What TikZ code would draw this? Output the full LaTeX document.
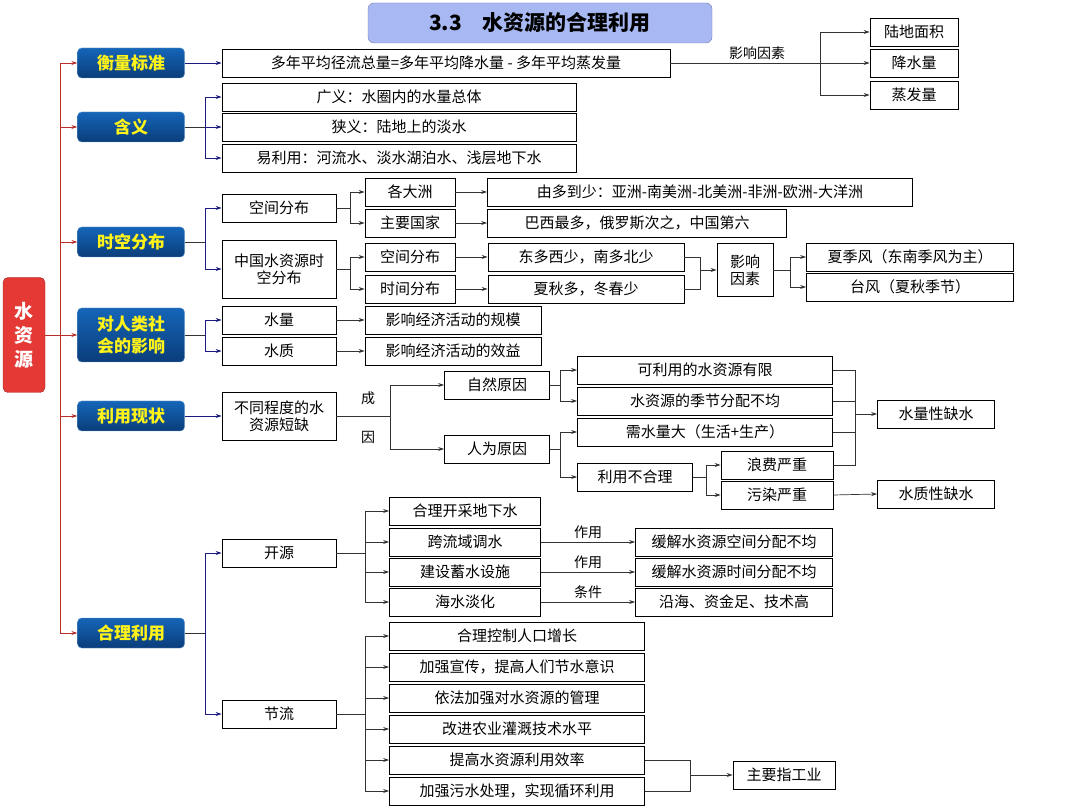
\documentclass[tikz,border=0pt]{standalone}
\usepackage{fontspec}
\setmainfont{Noto Sans CJK SC}
\usetikzlibrary{arrows.meta}
\definecolor{lone}{HTML}{1565B8}
\definecolor{ltwo}{HTML}{0A3D7A}
\definecolor{rootred}{HTML}{E53935}
\definecolor{titlebg}{HTML}{A7B8F2}
\definecolor{navy}{HTML}{1A1A80}
\definecolor{wire}{HTML}{333333}
\begin{document}
\begin{tikzpicture}[x=1pt,y=-1pt,
 bx/.style={draw=black,line width=0.8pt,fill=white,minimum height=28pt,inner sep=1pt,font=\fontsize{15}{17}\selectfont,align=center},
 lv/.style={draw=lone!60,rounded corners=4pt,top color=lone,bottom color=ltwo,minimum width=107pt,minimum height=30pt,text=yellow!90!white,font=\fontsize{17}{19}\selectfont\bfseries,align=center,inner sep=1pt},
 con/.style={draw=wire,line width=0.7pt,-{Stealth[length=6pt,width=4pt]}},
 bcon/.style={draw=navy,line width=0.7pt,-{Stealth[length=6pt,width=4pt]}},
 rcon/.style={draw=rootred!80!black,line width=0.7pt,-{Stealth[length=6pt,width=4pt]}},
 ln/.style={draw=wire,line width=0.7pt},
 lbl/.style={font=\fontsize{14}{16}\selectfont}]
\useasboundingbox (0,0) rectangle (1080,810);
% title
\node[draw=navy!60,rounded corners=6pt,fill=titlebg,minimum width=344pt,minimum height=40pt,font=\fontsize{21}{24}\selectfont\bfseries] (title) at (540,23) {3.3\quad 水资源的合理利用};
% root
\node[draw=rootred!70!black,rounded corners=5pt,fill=rootred,minimum width=42pt,minimum height=115pt,text=white,font=\fontsize{19}{24}\selectfont\bfseries,align=center] (root) at (24,335) {水\\资\\源};
\coordinate (trunk) at (60,335);
% level 1
\node[lv] (a1) at (131,63) {衡量标准};
\node[lv] (a2) at (131,127) {含义};
\node[lv] (a3) at (131,242) {时空分布};
\node[lv,minimum height=54pt,font=\fontsize{17}{22}\selectfont\bfseries] (a4) at (131,335) {对人类社\\会的影响};
\node[lv] (a5) at (131,416) {利用现状};
\node[lv] (a6) at (131,633) {合理利用};
\draw[rcon] (root.east) -- (trunk) |- (a1.west);
\draw[rcon] (trunk) |- (a2.west);
\draw[rcon] (trunk) |- (a3.west);
\draw[rcon] (trunk) -- (a4.west);
\draw[rcon] (trunk) |- (a5.west);
\draw[rcon] (trunk) |- (a6.west);
% 衡量标准
\node[bx,minimum width=448pt] (b1) at (446,63) {多年平均径流总量=多年平均降水量 - 多年平均蒸发量};
\draw[bcon] (a1.east) -- (b1.west);
\node[bx,minimum width=88pt] (f1) at (914,32) {陆地面积};
\node[bx,minimum width=88pt] (f2) at (914,63) {降水量};
\node[bx,minimum width=88pt] (f3) at (914,95) {蒸发量};
\coordinate (fj) at (820,63);
\draw[ln] (b1.east) -- node[lbl,above,pos=0.58]{影响因素} (fj);
\draw[con] (fj) |- (f1.west);
\draw[con] (fj) -- (f2.west);
\draw[con] (fj) |- (f3.west);
% 含义
\node[bx,minimum width=354pt] (c1) at (399,97) {广义：水圈内的水量总体};
\node[bx,minimum width=354pt] (c2) at (399,127) {狭义：陆地上的淡水};
\node[bx,minimum width=354pt] (c3) at (399,158) {易利用：河流水、淡水湖泊水、浅层地下水};
\coordinate (cj) at (205,127);
\draw[ln] (a2.east) -- (cj);
\draw[bcon] (cj) |- (c1.west);
\draw[bcon] (cj) -- (c2.west);
\draw[bcon] (cj) |- (c3.west);
% 时空分布
\node[bx,minimum width=114pt] (d1) at (279,208) {空间分布};
\node[bx,minimum width=114pt,minimum height=58pt] (d2) at (279,269) {中国水资源时\\空分布};
\coordinate (dj) at (205,242);
\draw[ln] (a3.east) -- (dj);
\draw[bcon] (dj) |- (d1.west);
\draw[bcon] (dj) |- (d2.west);
\node[bx,minimum width=90pt] (e1) at (410,192) {各大洲};
\node[bx,minimum width=90pt] (e2) at (410,223) {主要国家};
\node[bx,minimum width=425pt] (g1) at (700,192) {由多到少：亚洲-南美洲-北美洲-非洲-欧洲-大洋洲};
\node[bx,minimum width=299pt] (g2) at (637,223) {巴西最多，俄罗斯次之，中国第六};
\coordinate (ej) at (350,208);
\draw[ln] (d1.east) -- (ej);
\draw[con] (ej) |- (e1.west);
\draw[con] (ej) |- (e2.west);
\draw[con] (e1.east) -- (g1.west);
\draw[con] (e2.east) -- (g2.west);
\node[bx,minimum width=90pt] (e3) at (410,257) {空间分布};
\node[bx,minimum width=90pt] (e4) at (410,289) {时间分布};
\node[bx,minimum width=196pt] (g3) at (586,257) {东多西少，南多北少};
\node[bx,minimum width=196pt] (g4) at (586,289) {夏秋多，冬春少};
\coordinate (ej2) at (350,269);
\draw[ln] (d2.east) -- (ej2);
\draw[con] (ej2) |- (e3.west);
\draw[con] (ej2) |- (e4.west);
\draw[con] (e3.east) -- (g3.west);
\draw[con] (e4.east) -- (g4.west);
\node[bx,minimum width=56pt,minimum height=53pt] (h1) at (745,270) {影响\\因素};
\coordinate (hj) at (700,270);
\draw[ln] (g3.east) -| (hj);
\draw[ln] (g4.east) -| (hj);
\draw[con] (hj) -- (h1.west);
\node[bx,minimum width=207pt] (i1) at (910,257) {夏季风（东南季风为主）};
\node[bx,minimum width=207pt] (i2) at (910,287) {台风（夏秋季节）};
\coordinate (ij) at (790,270);
\draw[ln] (h1.east) -- (ij);
\draw[con] (ij) |- (i1.west);
\draw[con] (ij) |- (i2.west);
% 对人类社会的影响
\node[bx,minimum width=114pt] (k1) at (279,320) {水量};
\node[bx,minimum width=114pt] (k2) at (279,351) {水质};
\coordinate (kj) at (205,335);
\draw[ln] (a4.east) -- (kj);
\draw[bcon] (kj) |- (k1.west);
\draw[bcon] (kj) |- (k2.west);
\node[bx,minimum width=176pt] (l1) at (453,320) {影响经济活动的规模};
\node[bx,minimum width=176pt] (l2) at (453,351) {影响经济活动的效益};
\draw[con] (k1.east) -- (l1.west);
\draw[con] (k2.east) -- (l2.west);
% 利用现状
\node[bx,minimum width=114pt,minimum height=48pt] (m1) at (279,416) {不同程度的水\\资源短缺};
\draw[bcon] (a5.east) -- (m1.west);
\node[bx,minimum width=105pt] (n1) at (497,385) {自然原因};
\node[bx,minimum width=105pt] (n2) at (497,449) {人为原因};
\coordinate (nj) at (390,416);
\draw[ln] (m1.east) -- (nj);
\node[lbl] (cheng) at (368,398) {成};
\node[lbl] (yin) at (368,437) {因};
\draw[con] (nj) |- (n1.west);
\draw[con] (nj) |- (n2.west);
\node[bx,minimum width=255pt] (o1) at (705,370) {可利用的水资源有限};
\node[bx,minimum width=255pt] (o2) at (705,401) {水资源的季节分配不均};
\node[bx,minimum width=255pt] (o3) at (705,432) {需水量大（生活+生产）};
\node[bx,minimum width=115pt] (o4) at (635,477) {利用不合理};
\coordinate (oj1) at (560,385);
\coordinate (oj2) at (560,449);
\draw[ln] (n1.east) -- (oj1);
\draw[con] (oj1) |- (o1.west);
\draw[con] (oj1) |- (o2.west);
\draw[ln] (n2.east) -- (oj2);
\draw[con] (oj2) |- (o3.west);
\draw[con] (oj2) |- (o4.west);
\node[bx,minimum width=112pt] (p1) at (777,465) {浪费严重};
\node[bx,minimum width=112pt] (p2) at (777,495) {污染严重};
\coordinate (pj) at (706,477);
\draw[ln] (o4.east) -- (pj);
\draw[con] (pj) |- (p1.west);
\draw[con] (pj) |- (p2.west);
\node[bx,minimum width=117pt] (q1) at (936,414) {水量性缺水};
\node[bx,minimum width=117pt] (q2) at (936,494) {水质性缺水};
\coordinate (qj) at (855,414);
\draw[ln] (o1.east) -| (qj);
\draw[ln] (o2.east) -| (qj);
\draw[ln] (o3.east) -| (qj);
\draw[ln] (p1.east) -| (qj);
\draw[con] (qj) -- (q1.west);
\draw[con] (p2.east) -- (q2.west);
% 合理利用
\node[bx,minimum width=114pt] (r1) at (279,553) {开源};
\node[bx,minimum width=114pt] (r2) at (279,714) {节流};
\coordinate (rj) at (205,633);
\draw[ln] (a6.east) -- (rj);
\draw[bcon] (rj) |- (r1.west);
\draw[bcon] (rj) |- (r2.west);
\node[bx,minimum width=151pt] (s1) at (465,511) {合理开采地下水};
\node[bx,minimum width=151pt] (s2) at (465,542) {跨流域调水};
\node[bx,minimum width=151pt] (s3) at (465,572) {建设蓄水设施};
\node[bx,minimum width=151pt] (s4) at (465,602) {海水淡化};
\coordinate (sj) at (365,553);
\draw[ln] (r1.east) -- (sj);
\foreach \s in {s1,s2,s3,s4} \draw[con] (sj) |- (\s.west);
\node[bx,minimum width=197pt] (t1) at (734,542) {缓解水资源空间分配不均};
\node[bx,minimum width=197pt] (t2) at (734,572) {缓解水资源时间分配不均};
\node[bx,minimum width=197pt] (t3) at (734,602) {沿海、资金足、技术高};
\draw[con] (s2.east) -- node[lbl,above]{作用} (t1.west);
\draw[con] (s3.east) -- node[lbl,above]{作用} (t2.west);
\draw[con] (s4.east) -- node[lbl,above]{条件} (t3.west);
\node[bx,minimum width=255pt] (u1) at (517,636) {合理控制人口增长};
\node[bx,minimum width=255pt] (u2) at (517,667) {加强宣传，提高人们节水意识};
\node[bx,minimum width=255pt] (u3) at (517,698) {依法加强对水资源的管理};
\node[bx,minimum width=255pt] (u4) at (517,729) {改进农业灌溉技术水平};
\node[bx,minimum width=255pt] (u5) at (517,760) {提高水资源利用效率};
\node[bx,minimum width=255pt] (u6) at (517,791) {加强污水处理，实现循环利用};
\coordinate (uj) at (365,714);
\draw[ln] (r2.east) -- (uj);
\foreach \u in {u1,u2,u3,u4,u5,u6} \draw[con] (uj) |- (\u.west);
\node[bx,minimum width=102pt] (v1) at (784,775) {主要指工业};
\coordinate (vj) at (690,775);
\draw[ln] (u5.east) -| (vj);
\draw[ln] (u6.east) -| (vj);
\draw[con] (vj) -- (v1.west);
\end{tikzpicture}
\end{document}
